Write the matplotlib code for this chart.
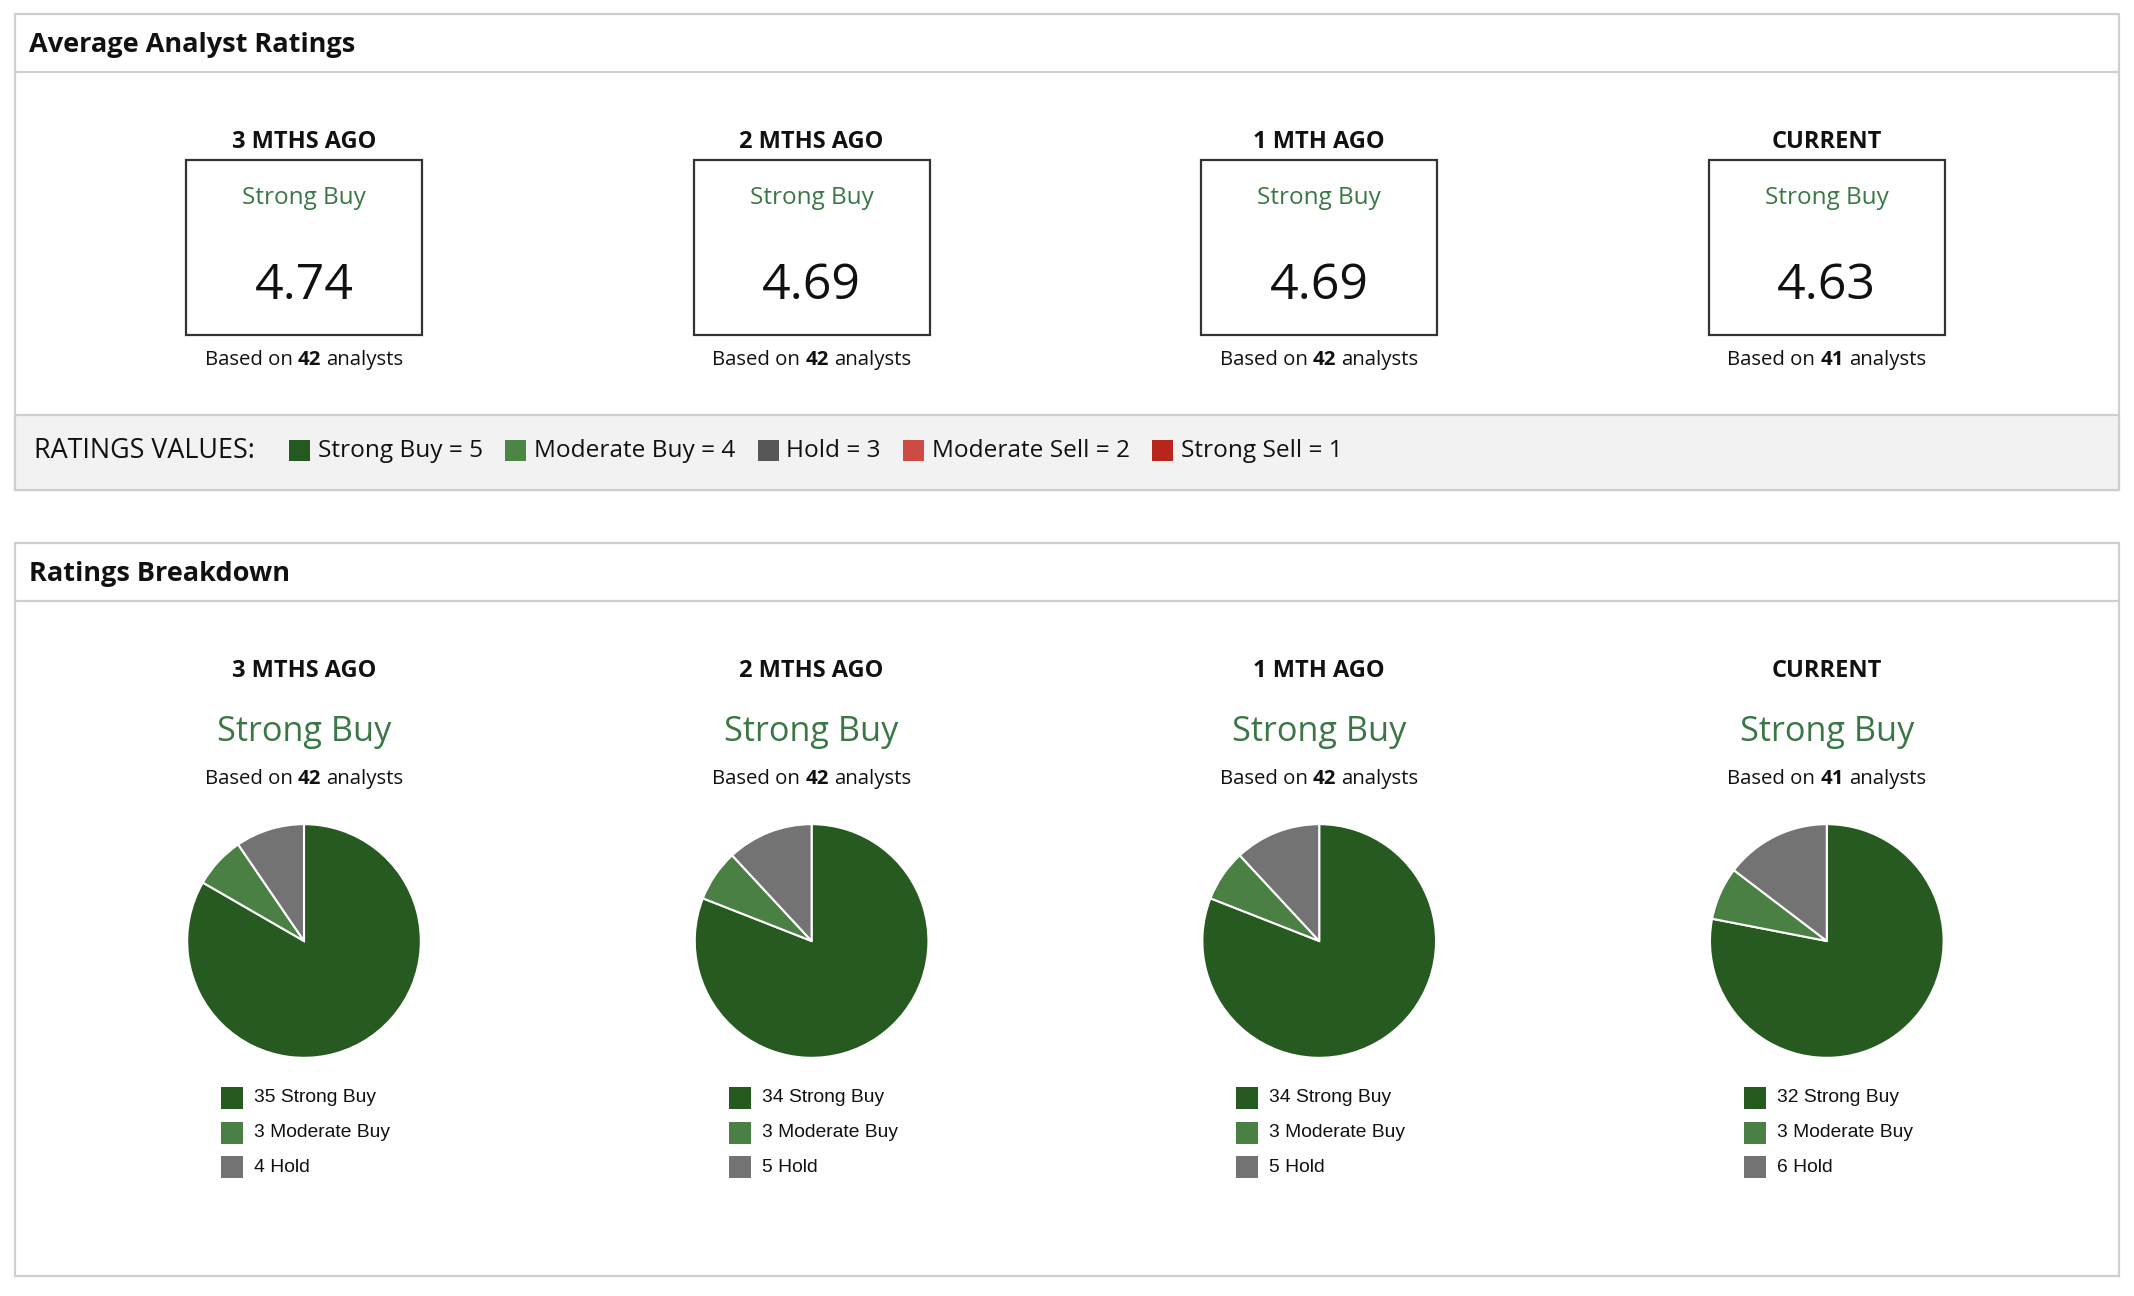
import matplotlib
matplotlib.use("Agg")
import matplotlib.pyplot as plt
from matplotlib.patches import Rectangle

periods = ["3 MTHS AGO", "2 MTHS AGO", "1 MTH AGO", "CURRENT"]
avg_scores = [4.74, 4.69, 4.69, 4.63]
consensus = ["Strong Buy", "Strong Buy", "Strong Buy", "Strong Buy"]
analyst_counts = [42, 42, 42, 41]

breakdown_labels = ["Strong Buy", "Moderate Buy", "Hold"]
strong_buy = [35, 34, 34, 32]
moderate_buy = [3, 3, 3, 3]
hold = [4, 5, 5, 6]

rating_names = ["Strong Buy", "Moderate Buy", "Hold", "Moderate Sell", "Strong Sell"]
rating_values = [5, 4, 3, 2, 1]

W, H = 2134, 1296
FONT = ["Open Sans", "DejaVu Sans"]
LEG_FONT = ["Liberation Sans", "DejaVu Sans"]
GREEN_TXT = "#3b7746"
BORDER = "#cfcfcf"
pie_colors = ["#265a20", "#4a8043", "#737373"]
key_colors = ["#245a1f", "#4c8645", "#575757", "#cc4b45", "#b8251b"]

fig = plt.figure(figsize=(W / 100, H / 100), dpi=100)
ax = fig.add_axes([0, 0, 1, 1])
ax.set_xlim(0, W)
ax.set_ylim(H, 0)
ax.axis("off")
renderer = fig.canvas.get_renderer()


def text_w(s, size, weight="normal", family=FONT):
    t = ax.text(0, 0, s, fontsize=size, fontweight=weight, family=family)
    w = t.get_window_extent(renderer).width
    t.remove()
    return w


def based_on(x, y, n, size):
    sp = text_w("x x", size) - text_w("xx", size)
    parts = [("Based on", "normal"), (str(n), "bold"), ("analysts", "normal")]
    widths = [text_w(s, size, w) for s, w in parts]
    total = sum(widths) + 2 * sp
    cur = x - total / 2
    for (s, w), wd in zip(parts, widths):
        ax.text(cur, y, s, fontsize=size, fontweight=w, family=FONT,
                ha="left", va="center", color="#111111")
        cur += wd + sp


def panel(x0, y0, x1, y1, head_y, title):
    ax.add_patch(Rectangle((x0, y0), x1 - x0, y1 - y0, facecolor="white",
                           edgecolor=BORDER, lw=1.6))
    ax.plot([x0, x1], [head_y, head_y], color=BORDER, lw=1.6)
    ax.text(x0 + 14, (y0 + head_y) / 2 + 2, title, fontsize=19.5, fontweight="bold",
            family=FONT, ha="left", va="center", color="#111111")


centers = [304 + i * 507.6 for i in range(4)]

# top panel: average ratings
panel(15, 14, 2119, 490, 72, "Average Analyst Ratings")
ax.add_patch(Rectangle((15, 415), 2104, 75, facecolor="#f2f2f2",
                       edgecolor=BORDER, lw=1.6))

for i, cx in enumerate(centers):
    ax.text(cx, 142, periods[i], fontsize=17, fontweight="bold", family=FONT,
            ha="center", va="center", color="#111111")
    ax.add_patch(Rectangle((cx - 118, 160), 236, 175, facecolor="white",
                           edgecolor="#333333", lw=1.6))
    ax.text(cx, 198, consensus[i], fontsize=17.5, family=FONT,
            ha="center", va="center", color=GREEN_TXT)
    ax.text(cx, 286, f"{avg_scores[i]:.2f}", fontsize=36, family=FONT,
            ha="center", va="center", color="#111111")
    based_on(cx, 360, analyst_counts[i], 14.7)

# ratings values key
ax.text(34, 451, "RATINGS VALUES:", fontsize=19.4, family=FONT,
        ha="left", va="center", color="#111111")
cur = 289
for name, val, col in zip(rating_names, rating_values, key_colors):
    ax.add_patch(Rectangle((cur, 440), 21, 21, facecolor=col, edgecolor="none"))
    label = f"{name} = {val}"
    ax.text(cur + 29, 451, label, fontsize=17.6, family=FONT,
            ha="left", va="center", color="#111111")
    cur += 29 + text_w(label, 17.6) + 22

# bottom panel: ratings breakdown
panel(15, 543, 2119, 1276, 601, "Ratings Breakdown")

for i, cx in enumerate(centers):
    ax.text(cx, 671, periods[i], fontsize=17, fontweight="bold", family=FONT,
            ha="center", va="center", color="#111111")
    ax.text(cx, 732, consensus[i], fontsize=24.7, family=FONT,
            ha="center", va="center", color=GREEN_TXT)
    based_on(cx, 779, analyst_counts[i], 14.7)

    counts = [strong_buy[i], moderate_buy[i], hold[i]]
    r = 118
    pax = fig.add_axes([(cx - r) / W, 1 - (941 + r) / H, 2 * r / W, 2 * r / H])
    pax.pie(counts, colors=pie_colors, startangle=90, counterclock=False,
            wedgeprops=dict(edgecolor="white", linewidth=1.5))
    pax.set_xlim(-1.01, 1.01)
    pax.set_ylim(-1.01, 1.01)

    for j, (lab, c) in enumerate(zip(breakdown_labels, counts)):
        ly = 1098 + j * 34.5
        ax.add_patch(Rectangle((cx - 83, ly - 11), 22, 22,
                               facecolor=pie_colors[j], edgecolor="none"))
        ax.text(cx - 50, ly, f"{c} {lab}", fontsize=13.9, family=LEG_FONT,
                ha="left", va="center", color="#111111")

fig.savefig("out.png", dpi=100, facecolor="white")
